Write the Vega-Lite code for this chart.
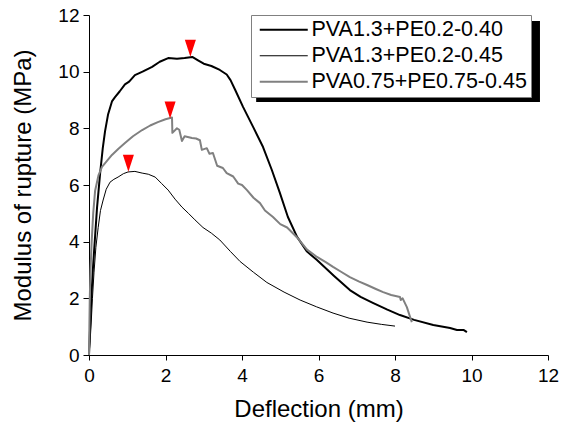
{
  "$schema": "https://vega.github.io/schema/vega-lite/v6.json",
  "width": 459,
  "height": 340,
  "autosize": {"type": "none"},
  "padding": {"left": 89, "top": 15, "right": 14, "bottom": 71},
  "background": "white",
  "config": {
    "view": {"stroke": null},
    "font": "Liberation Sans",
    "axis": {
      "domainColor": "black", "tickColor": "black", "labelColor": "black", "titleColor": "black",
      "grid": false, "labelFont": "Liberation Sans", "titleFont": "Liberation Sans",
      "labelFontSize": 19, "titleFontSize": 24, "titleFontWeight": "normal", "domainWidth": 1, "tickWidth": 1,
      "labelFlush": false
    },
    "legend": {"labelFont": "Liberation Sans", "labelFontSize": 21.5, "labelColor": "black"}
  },
  "datasets": {
    "curves": [
      {"s": "PVA1.3+PE0.2-0.40", "x": 0, "y": 0},
      {"s": "PVA1.3+PE0.2-0.40", "x": 0.03, "y": 1.0},
      {"s": "PVA1.3+PE0.2-0.40", "x": 0.06, "y": 2.0},
      {"s": "PVA1.3+PE0.2-0.40", "x": 0.1, "y": 3.0},
      {"s": "PVA1.3+PE0.2-0.40", "x": 0.15, "y": 4.0},
      {"s": "PVA1.3+PE0.2-0.40", "x": 0.21, "y": 5.2},
      {"s": "PVA1.3+PE0.2-0.40", "x": 0.29, "y": 6.4},
      {"s": "PVA1.3+PE0.2-0.40", "x": 0.36, "y": 7.3},
      {"s": "PVA1.3+PE0.2-0.40", "x": 0.42, "y": 7.9},
      {"s": "PVA1.3+PE0.2-0.40", "x": 0.5, "y": 8.5},
      {"s": "PVA1.3+PE0.2-0.40", "x": 0.6, "y": 8.95},
      {"s": "PVA1.3+PE0.2-0.40", "x": 0.68, "y": 9.1},
      {"s": "PVA1.3+PE0.2-0.40", "x": 0.8, "y": 9.3},
      {"s": "PVA1.3+PE0.2-0.40", "x": 0.94, "y": 9.55},
      {"s": "PVA1.3+PE0.2-0.40", "x": 1.05, "y": 9.65},
      {"s": "PVA1.3+PE0.2-0.40", "x": 1.2, "y": 9.88},
      {"s": "PVA1.3+PE0.2-0.40", "x": 1.4, "y": 10.0},
      {"s": "PVA1.3+PE0.2-0.40", "x": 1.65, "y": 10.17},
      {"s": "PVA1.3+PE0.2-0.40", "x": 1.85, "y": 10.35},
      {"s": "PVA1.3+PE0.2-0.40", "x": 2.07, "y": 10.48},
      {"s": "PVA1.3+PE0.2-0.40", "x": 2.3, "y": 10.46},
      {"s": "PVA1.3+PE0.2-0.40", "x": 2.5, "y": 10.48},
      {"s": "PVA1.3+PE0.2-0.40", "x": 2.7, "y": 10.52},
      {"s": "PVA1.3+PE0.2-0.40", "x": 2.85, "y": 10.4},
      {"s": "PVA1.3+PE0.2-0.40", "x": 3.0, "y": 10.28},
      {"s": "PVA1.3+PE0.2-0.40", "x": 3.2, "y": 10.2},
      {"s": "PVA1.3+PE0.2-0.40", "x": 3.42, "y": 10.06},
      {"s": "PVA1.3+PE0.2-0.40", "x": 3.6, "y": 9.9},
      {"s": "PVA1.3+PE0.2-0.40", "x": 3.7, "y": 9.7},
      {"s": "PVA1.3+PE0.2-0.40", "x": 3.82, "y": 9.36},
      {"s": "PVA1.3+PE0.2-0.40", "x": 4.03, "y": 8.75},
      {"s": "PVA1.3+PE0.2-0.40", "x": 4.29, "y": 8.05},
      {"s": "PVA1.3+PE0.2-0.40", "x": 4.55, "y": 7.34},
      {"s": "PVA1.3+PE0.2-0.40", "x": 4.78, "y": 6.53},
      {"s": "PVA1.3+PE0.2-0.40", "x": 4.99, "y": 5.72},
      {"s": "PVA1.3+PE0.2-0.40", "x": 5.2, "y": 4.87},
      {"s": "PVA1.3+PE0.2-0.40", "x": 5.44, "y": 4.17},
      {"s": "PVA1.3+PE0.2-0.40", "x": 5.7, "y": 3.65},
      {"s": "PVA1.3+PE0.2-0.40", "x": 5.96, "y": 3.35},
      {"s": "PVA1.3+PE0.2-0.40", "x": 6.4, "y": 2.8},
      {"s": "PVA1.3+PE0.2-0.40", "x": 6.82, "y": 2.29},
      {"s": "PVA1.3+PE0.2-0.40", "x": 7.1, "y": 2.05},
      {"s": "PVA1.3+PE0.2-0.40", "x": 7.42, "y": 1.84},
      {"s": "PVA1.3+PE0.2-0.40", "x": 7.8, "y": 1.6},
      {"s": "PVA1.3+PE0.2-0.40", "x": 8.13, "y": 1.41},
      {"s": "PVA1.3+PE0.2-0.40", "x": 8.5, "y": 1.24},
      {"s": "PVA1.3+PE0.2-0.40", "x": 9.0, "y": 1.06},
      {"s": "PVA1.3+PE0.2-0.40", "x": 9.44, "y": 0.95},
      {"s": "PVA1.3+PE0.2-0.40", "x": 9.62, "y": 0.88},
      {"s": "PVA1.3+PE0.2-0.40", "x": 9.8, "y": 0.88},
      {"s": "PVA1.3+PE0.2-0.40", "x": 9.88, "y": 0.81},

      {"s": "PVA1.3+PE0.2-0.45", "x": 0, "y": 0},
      {"s": "PVA1.3+PE0.2-0.45", "x": 0.03, "y": 0.5},
      {"s": "PVA1.3+PE0.2-0.45", "x": 0.06, "y": 1.2},
      {"s": "PVA1.3+PE0.2-0.45", "x": 0.09, "y": 2.0},
      {"s": "PVA1.3+PE0.2-0.45", "x": 0.13, "y": 2.9},
      {"s": "PVA1.3+PE0.2-0.45", "x": 0.18, "y": 3.8},
      {"s": "PVA1.3+PE0.2-0.45", "x": 0.24, "y": 4.5},
      {"s": "PVA1.3+PE0.2-0.45", "x": 0.3, "y": 5.1},
      {"s": "PVA1.3+PE0.2-0.45", "x": 0.37, "y": 5.47},
      {"s": "PVA1.3+PE0.2-0.45", "x": 0.45, "y": 5.85},
      {"s": "PVA1.3+PE0.2-0.45", "x": 0.55, "y": 6.1},
      {"s": "PVA1.3+PE0.2-0.45", "x": 0.65, "y": 6.2},
      {"s": "PVA1.3+PE0.2-0.45", "x": 0.76, "y": 6.28},
      {"s": "PVA1.3+PE0.2-0.45", "x": 0.9, "y": 6.4},
      {"s": "PVA1.3+PE0.2-0.45", "x": 1.02, "y": 6.46},
      {"s": "PVA1.3+PE0.2-0.45", "x": 1.2, "y": 6.48},
      {"s": "PVA1.3+PE0.2-0.45", "x": 1.39, "y": 6.42},
      {"s": "PVA1.3+PE0.2-0.45", "x": 1.55, "y": 6.38},
      {"s": "PVA1.3+PE0.2-0.45", "x": 1.73, "y": 6.28},
      {"s": "PVA1.3+PE0.2-0.45", "x": 1.9, "y": 6.05},
      {"s": "PVA1.3+PE0.2-0.45", "x": 2.07, "y": 5.82},
      {"s": "PVA1.3+PE0.2-0.45", "x": 2.25, "y": 5.5},
      {"s": "PVA1.3+PE0.2-0.45", "x": 2.43, "y": 5.22},
      {"s": "PVA1.3+PE0.2-0.45", "x": 2.6, "y": 5.0},
      {"s": "PVA1.3+PE0.2-0.45", "x": 2.77, "y": 4.77},
      {"s": "PVA1.3+PE0.2-0.45", "x": 2.98, "y": 4.5},
      {"s": "PVA1.3+PE0.2-0.45", "x": 3.2, "y": 4.3},
      {"s": "PVA1.3+PE0.2-0.45", "x": 3.42, "y": 4.06},
      {"s": "PVA1.3+PE0.2-0.45", "x": 3.7, "y": 3.65},
      {"s": "PVA1.3+PE0.2-0.45", "x": 3.95, "y": 3.3},
      {"s": "PVA1.3+PE0.2-0.45", "x": 4.3, "y": 2.92},
      {"s": "PVA1.3+PE0.2-0.45", "x": 4.65, "y": 2.56},
      {"s": "PVA1.3+PE0.2-0.45", "x": 5.1, "y": 2.22},
      {"s": "PVA1.3+PE0.2-0.45", "x": 5.52, "y": 1.94},
      {"s": "PVA1.3+PE0.2-0.45", "x": 5.95, "y": 1.7},
      {"s": "PVA1.3+PE0.2-0.45", "x": 6.38, "y": 1.48},
      {"s": "PVA1.3+PE0.2-0.45", "x": 6.8, "y": 1.3},
      {"s": "PVA1.3+PE0.2-0.45", "x": 7.27, "y": 1.16},
      {"s": "PVA1.3+PE0.2-0.45", "x": 7.65, "y": 1.08},
      {"s": "PVA1.3+PE0.2-0.45", "x": 8.0, "y": 1.02},

      {"s": "PVA0.75+PE0.75-0.45", "x": 0, "y": 0},
      {"s": "PVA0.75+PE0.75-0.45", "x": 0.01, "y": 1.0},
      {"s": "PVA0.75+PE0.75-0.45", "x": 0.02, "y": 2.0},
      {"s": "PVA0.75+PE0.75-0.45", "x": 0.04, "y": 3.0},
      {"s": "PVA0.75+PE0.75-0.45", "x": 0.07, "y": 4.0},
      {"s": "PVA0.75+PE0.75-0.45", "x": 0.11, "y": 5.0},
      {"s": "PVA0.75+PE0.75-0.45", "x": 0.16, "y": 5.8},
      {"s": "PVA0.75+PE0.75-0.45", "x": 0.25, "y": 6.35},
      {"s": "PVA0.75+PE0.75-0.45", "x": 0.34, "y": 6.64},
      {"s": "PVA0.75+PE0.75-0.45", "x": 0.47, "y": 6.85},
      {"s": "PVA0.75+PE0.75-0.45", "x": 0.6, "y": 7.06},
      {"s": "PVA0.75+PE0.75-0.45", "x": 0.77, "y": 7.28},
      {"s": "PVA0.75+PE0.75-0.45", "x": 0.94, "y": 7.48},
      {"s": "PVA0.75+PE0.75-0.45", "x": 1.15, "y": 7.72},
      {"s": "PVA0.75+PE0.75-0.45", "x": 1.39, "y": 7.94},
      {"s": "PVA0.75+PE0.75-0.45", "x": 1.6, "y": 8.1},
      {"s": "PVA0.75+PE0.75-0.45", "x": 1.8, "y": 8.22},
      {"s": "PVA0.75+PE0.75-0.45", "x": 2.0, "y": 8.32},
      {"s": "PVA0.75+PE0.75-0.45", "x": 2.17, "y": 8.38},
      {"s": "PVA0.75+PE0.75-0.45", "x": 2.18, "y": 7.84},
      {"s": "PVA0.75+PE0.75-0.45", "x": 2.3, "y": 8.0},
      {"s": "PVA0.75+PE0.75-0.45", "x": 2.36, "y": 7.95},
      {"s": "PVA0.75+PE0.75-0.45", "x": 2.43, "y": 7.55},
      {"s": "PVA0.75+PE0.75-0.45", "x": 2.5, "y": 7.72},
      {"s": "PVA0.75+PE0.75-0.45", "x": 2.69, "y": 7.66},
      {"s": "PVA0.75+PE0.75-0.45", "x": 2.8, "y": 7.64},
      {"s": "PVA0.75+PE0.75-0.45", "x": 2.9, "y": 7.58},
      {"s": "PVA0.75+PE0.75-0.45", "x": 2.95, "y": 7.24},
      {"s": "PVA0.75+PE0.75-0.45", "x": 3.08, "y": 7.3},
      {"s": "PVA0.75+PE0.75-0.45", "x": 3.15, "y": 7.1},
      {"s": "PVA0.75+PE0.75-0.45", "x": 3.24, "y": 7.13},
      {"s": "PVA0.75+PE0.75-0.45", "x": 3.35, "y": 6.68},
      {"s": "PVA0.75+PE0.75-0.45", "x": 3.5, "y": 6.6},
      {"s": "PVA0.75+PE0.75-0.45", "x": 3.6, "y": 6.42},
      {"s": "PVA0.75+PE0.75-0.45", "x": 3.77, "y": 6.3},
      {"s": "PVA0.75+PE0.75-0.45", "x": 3.9, "y": 6.05},
      {"s": "PVA0.75+PE0.75-0.45", "x": 4.0, "y": 6.0},
      {"s": "PVA0.75+PE0.75-0.45", "x": 4.13, "y": 5.82},
      {"s": "PVA0.75+PE0.75-0.45", "x": 4.3, "y": 5.55},
      {"s": "PVA0.75+PE0.75-0.45", "x": 4.47, "y": 5.36},
      {"s": "PVA0.75+PE0.75-0.45", "x": 4.6, "y": 5.1},
      {"s": "PVA0.75+PE0.75-0.45", "x": 4.81, "y": 4.87},
      {"s": "PVA0.75+PE0.75-0.45", "x": 5.0, "y": 4.62},
      {"s": "PVA0.75+PE0.75-0.45", "x": 5.18, "y": 4.5},
      {"s": "PVA0.75+PE0.75-0.45", "x": 5.44, "y": 4.15},
      {"s": "PVA0.75+PE0.75-0.45", "x": 5.7, "y": 3.72},
      {"s": "PVA0.75+PE0.75-0.45", "x": 5.96, "y": 3.46},
      {"s": "PVA0.75+PE0.75-0.45", "x": 6.2, "y": 3.27},
      {"s": "PVA0.75+PE0.75-0.45", "x": 6.38, "y": 3.11},
      {"s": "PVA0.75+PE0.75-0.45", "x": 6.6, "y": 2.93},
      {"s": "PVA0.75+PE0.75-0.45", "x": 6.82, "y": 2.75},
      {"s": "PVA0.75+PE0.75-0.45", "x": 7.05, "y": 2.6},
      {"s": "PVA0.75+PE0.75-0.45", "x": 7.27, "y": 2.47},
      {"s": "PVA0.75+PE0.75-0.45", "x": 7.5, "y": 2.33},
      {"s": "PVA0.75+PE0.75-0.45", "x": 7.69, "y": 2.22},
      {"s": "PVA0.75+PE0.75-0.45", "x": 7.9, "y": 2.12},
      {"s": "PVA0.75+PE0.75-0.45", "x": 8.13, "y": 2.05},
      {"s": "PVA0.75+PE0.75-0.45", "x": 8.15, "y": 1.94},
      {"s": "PVA0.75+PE0.75-0.45", "x": 8.2, "y": 2.0},
      {"s": "PVA0.75+PE0.75-0.45", "x": 8.31, "y": 1.69},
      {"s": "PVA0.75+PE0.75-0.45", "x": 8.38, "y": 1.4},
      {"s": "PVA0.75+PE0.75-0.45", "x": 8.44, "y": 1.16}
    ],
    "peaks": [
      {"x": 2.65, "y": 10.83},
      {"x": 2.12, "y": 8.65},
      {"x": 1.03, "y": 6.77}
    ],
    "shadow": [
      {"x1": 4.37, "x2": 11.79, "y1": 11.79, "y2": 8.93}
    ]
  },
  "layer": [
    {
      "data": {"name": "shadow"},
      "mark": {"type": "rect", "color": "black"},
      "encoding": {
        "x": {
          "field": "x1", "type": "quantitative", "title": "Deflection (mm)",
          "scale": {"domain": [0, 12], "nice": false},
          "axis": {
            "values": [0,1,2,3,4,5,6,7,8,9,10,11,12],
            "labelExpr": "datum.value % 2 === 0 ? datum.label : ''",
            "tickSize": {"condition": {"test": "datum.value % 2 === 1", "value": 3}, "value": 5},
            "labelPadding": 6, "titlePadding": 12
          }
        },
        "x2": {"field": "x2"},
        "y": {
          "field": "y1", "type": "quantitative", "title": "Modulus of rupture (MPa)",
          "scale": {"domain": [0, 12], "nice": false},
          "axis": {
            "values": [0,1,2,3,4,5,6,7,8,9,10,11,12],
            "labelExpr": "datum.value % 2 === 0 ? datum.label : ''",
            "tickSize": {"condition": {"test": "datum.value % 2 === 1", "value": 3}, "value": 6},
            "labelPadding": 4, "titlePadding": 22
          }
        },
        "y2": {"field": "y2"}
      }
    },
    {
      "data": {"name": "curves"},
      "mark": {"type": "line", "strokeJoin": "round"},
      "encoding": {
        "x": {"field": "x", "type": "quantitative", "title": "Deflection (mm)"},
        "y": {"field": "y", "type": "quantitative", "title": "Modulus of rupture (MPa)"},
        "color": {
          "field": "s", "type": "nominal",
          "scale": {"domain": ["PVA1.3+PE0.2-0.40", "PVA1.3+PE0.2-0.45", "PVA0.75+PE0.75-0.45"], "range": ["black", "black", "#808080"]},
          "legend": {
            "title": null, "orient": "none", "legendX": 162, "legendY": 0,
            "fillColor": "white", "strokeColor": "#808080", "padding": 4, "cornerRadius": 0,
            "symbolType": "M-0.75,0H5.25", "symbolSize": 256, "labelOffset": 35, "rowPadding": 3,
            "symbolFillColor": "transparent", "labelLimit": 400
          }
        },
        "strokeWidth": {
          "field": "s", "type": "nominal",
          "scale": {"type": "ordinal", "domain": ["PVA1.3+PE0.2-0.40", "PVA1.3+PE0.2-0.45", "PVA0.75+PE0.75-0.45"], "range": [2, 1, 2]},
          "legend": null
        }
      }
    },
    {
      "data": {"name": "peaks"},
      "mark": {"type": "point", "shape": "M-0.65,-1L0.65,-1L0,1Z", "filled": true, "color": "#ff0000", "size": 289, "opacity": 1},
      "encoding": {
        "x": {"field": "x", "type": "quantitative", "title": "Deflection (mm)"},
        "y": {"field": "y", "type": "quantitative", "title": "Modulus of rupture (MPa)"}
      }
    }
  ]
}
